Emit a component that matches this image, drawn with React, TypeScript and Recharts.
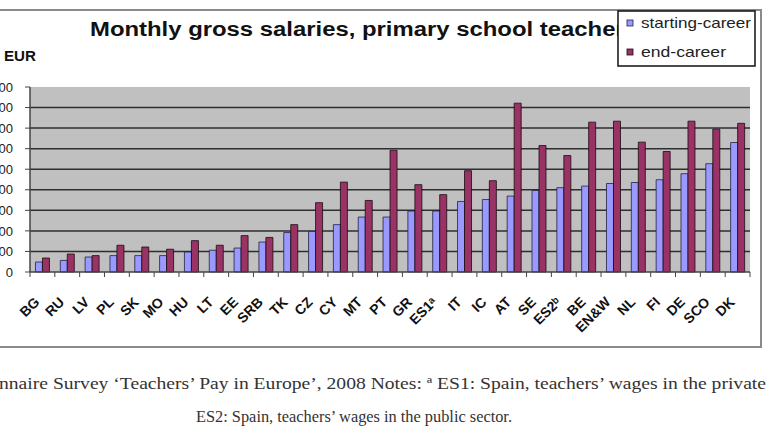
import React from 'react';
import { BarChart, Bar, XAxis, YAxis, CartesianGrid } from 'recharts';

const countries = ['BG', 'RU', 'LV', 'PL', 'SK', 'MO', 'HU', 'LT', 'EE', 'SRB', 'TK', 'CZ', 'CY', 'MT', 'PT', 'GR', 'ES1ᵃ', 'IT', 'IC', 'AT', 'SE', 'ES2ᵇ', 'BE', 'EN&W', 'NL', 'FI', 'DE', 'SCO', 'DK'];
const startingCareer = [243, 282, 365, 399, 399, 399, 486, 530, 583, 729, 960, 987, 1152, 1337, 1337, 1482, 1482, 1716, 1764, 1847, 1983, 2051, 2090, 2153, 2177, 2245, 2391, 2634, 3150];
const endCareer = [340, 437, 399, 651, 608, 554, 763, 651, 885, 841, 1152, 1686, 2187, 1740, 2960, 2124, 1881, 2464, 2221, 4107, 3076, 2833, 3645, 3669, 3159, 2931, 3669, 3475, 3616];
const yTicks = [0, 500, 1000, 1500, 2000, 2500, 3000, 3500, 4000, 4500];
const gridValues = [500, 1000, 1500, 2000, 2500, 3000, 3500, 4000];

const chartData = countries.map((c, i) => ({ country: c, start: startingCareer[i], end: endCareer[i] }));

const SANS = '"Liberation Sans", Arial, sans-serif';
const SERIF = '"Liberation Serif", "Times New Roman", serif';
const BAND = 720 / countries.length;

const CountryTick = (props: any) => {
  const { x, y, payload } = props;
  const last = payload.index === countries.length - 1;
  const tx = x - 2;
  const ty = y + 31;
  return (
    <g>
      <line x1={x - BAND / 2} x2={x - BAND / 2} y1={y} y2={y + 5} stroke="#444" />
      {last && <line x1={x + BAND / 2} x2={x + BAND / 2} y1={y} y2={y + 5} stroke="#444" />}
      <text
        x={tx}
        y={ty}
        textAnchor="end"
        transform={`rotate(-45, ${tx}, ${ty})`}
        fontFamily={SANS}
        fontWeight="bold"
        fontSize={14}
        fill="#111"
      >
        {payload.value}
      </text>
    </g>
  );
};

export default function App() {
  return (
    <div style={{ position: 'fixed', left: 0, top: 0, width: 768, height: 432, overflow: 'hidden', background: '#fff' }}>
      <div style={{ position: 'absolute', left: -40, top: 0 }}>
        <BarChart
          width={800}
          height={350}
          data={chartData}
          margin={{ top: 87, right: 10, bottom: 0, left: 0 }}
          barCategoryGap="22%"
          barGap={0}
        >
          <CartesianGrid
            vertical={false}
            horizontalValues={gridValues}
            fill="#C0C0C0"
            stroke="#2e2e2e"
            strokeWidth={1.5}
          />
          <XAxis
            dataKey="country"
            interval={0}
            height={78}
            tickSize={0}
            tickMargin={0}
            tickLine={false}
            axisLine={{ stroke: '#444', strokeWidth: 1.5 }}
            tick={(p: any) => <CountryTick {...p} />}
          />
          <YAxis
            width={70}
            domain={[0, 4500]}
            ticks={yTicks}
            interval={0}
            tickSize={5}
            tickMargin={12}
            axisLine={{ stroke: '#444', strokeWidth: 1.5 }}
            tickLine={{ stroke: '#444' }}
            tick={{ fontSize: 13, fill: '#222', fontFamily: SANS }}
          />
          <Bar dataKey="start" fill="#9999FF" stroke="#222244" strokeWidth={0.8} isAnimationActive={false} />
          <Bar dataKey="end" fill="#993366" stroke="#1a0a10" strokeWidth={0.8} isAnimationActive={false} />
        </BarChart>
      </div>
      <svg width={768} height={432} style={{ position: 'absolute', left: 0, top: 0, pointerEvents: 'none' }}>
        <polyline points="-5,10 761,10 761,347 -5,347" fill="none" stroke="#8a8a8a" strokeWidth={2} />
        <text x={90} y={36} fontFamily={SANS} fontWeight="bold" fontSize={19.5} fill="#111" textLength={548} lengthAdjust="spacingAndGlyphs">
          Monthly gross salaries, primary school teachers
        </text>
        <text x={4} y={61} fontFamily={SANS} fontWeight="bold" fontSize={14} fill="#111" textLength={32} lengthAdjust="spacingAndGlyphs">
          EUR
        </text>
        <rect x={618} y={11} width={137} height={55} fill="#fff" stroke="#111" strokeWidth={1.5} />
        <rect x={627} y={20} width={6} height={6} fill="#9999FF" stroke="#222244" strokeWidth={0.8} />
        <text x={641} y={28} fontFamily={SANS} fontSize={14.5} fill="#222" textLength={110} lengthAdjust="spacingAndGlyphs">
          starting-career
        </text>
        <rect x={627} y={49} width={6} height={6} fill="#993366" stroke="#1a0a10" strokeWidth={0.8} />
        <text x={641} y={57} fontFamily={SANS} fontSize={14.5} fill="#222" textLength={85} lengthAdjust="spacingAndGlyphs">
          end-career
        </text>
        <text x={-1} y={389} fontFamily={SERIF} fontSize={16} fill="#333" textLength={767} lengthAdjust="spacingAndGlyphs">
          nnaire Survey ‘Teachers’ Pay in Europe’, 2008   Notes: ª ES1: Spain, teachers’ wages in the private
        </text>
        <text x={196} y={422} fontFamily={SERIF} fontSize={16} fill="#333" textLength={316} lengthAdjust="spacingAndGlyphs">
          ES2: Spain, teachers’ wages in the public sector.
        </text>
      </svg>
    </div>
  );
}
